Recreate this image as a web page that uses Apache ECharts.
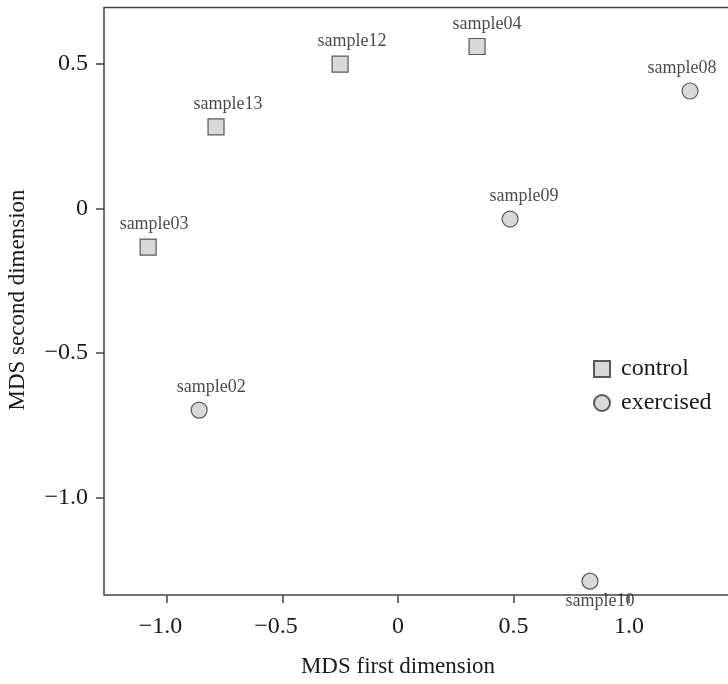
<!DOCTYPE html>
<html>
<head>
<meta charset="utf-8">
<script src="https://cdn.jsdelivr.net/npm/echarts@6/dist/echarts.min.js"></script>
<style>
html,body{margin:0;padding:0;overflow:hidden;background:#fff;}
#c{width:740px;height:684px;}
</style>
</head>
<body>
<div id="c"></div>
<script>
const controlNames = ['sample04','sample12','sample13','sample03'];
const controlX = [0.342, -0.251, -0.788, -1.082];
const controlY = [0.561, 0.500, 0.283, -0.133];
const exercisedNames = ['sample08','sample09','sample02','sample10'];
const exercisedX = [1.264, 0.485, -0.861, 0.831];
const exercisedY = [0.407, -0.036, -0.697, -1.289];
const xTicks = [-1.0, -0.5, 0, 0.5, 1.0];
const yTicks = [-1.0, -0.5, 0, 0.5];

// label placement styling (pixel nudges), kept apart from the data
const labelBelow = ['sample10'];
const labelNudge = { sample04: 10, sample12: 12, sample13: 12, sample03: 6, sample08: -8, sample09: 14, sample02: 12, sample10: 10 };

const FONT = '"Liberation Serif", "DejaVu Serif", serif';
const fmt = v => v === 0 ? '0' : (v < 0 ? '\u2212' : '') + Math.abs(v).toFixed(1);

function pts(names, xs, ys) {
  return names.map((n, i) => ({
    name: n,
    value: [xs[i], ys[i]],
    label: {
      position: labelBelow.includes(n) ? 'bottom' : 'top',
      distance: labelBelow.includes(n) ? 3 : 5,
      offset: [labelNudge[n] || 0, 0]
    }
  }));
}

const chart = echarts.init(document.getElementById('c'), null, { renderer: 'canvas' });
const markStyle = { color: '#d0d0d0', borderColor: '#333', borderWidth: 1.2 };
const ptLabel = { show: true, formatter: p => p.name, color: '#1a1a1a', fontFamily: FONT, fontSize: 18 };

chart.setOption({
  animation: false,
  grid: { left: 104, top: 7.5, right: 4, bottom: 89, show: true, borderColor: '#444', borderWidth: 1.5 },
  xAxis: {
    type: 'value', min: -1.273, max: 1.463,
    splitLine: { show: false },
    axisLine: { show: false, onZero: false },
    axisTick: { show: true, customValues: xTicks, length: 8, lineStyle: { color: '#444', width: 1.5 } },
    axisLabel: {
      customValues: xTicks, margin: 20, color: '#1a1a1a', fontFamily: FONT, fontSize: 24,
      formatter: v => v < 0 ? '{n|' + fmt(v) + '}' : fmt(v),
      rich: { n: { padding: [0, 13, 0, 0], fontFamily: FONT, fontSize: 24, color: '#1a1a1a' } }
    }
  },
  yAxis: {
    type: 'value', min: -1.337, max: 0.696,
    splitLine: { show: false },
    axisLine: { show: false, onZero: false },
    axisTick: { show: true, customValues: yTicks, length: 8, lineStyle: { color: '#444', width: 1.5 } },
    axisLabel: { customValues: yTicks, margin: 16, color: '#1a1a1a', fontFamily: FONT, fontSize: 24, formatter: fmt }
  },
  legend: {
    orient: 'vertical', left: 588, top: 352, itemWidth: 16, itemHeight: 16, itemGap: 10,
    textStyle: { fontFamily: FONT, fontSize: 24, color: '#1a1a1a', padding: [0, 0, 0, 6] },
    data: [{ name: 'control', icon: 'rect' }, { name: 'exercised', icon: 'circle' }]
  },
  series: [
    { name: 'control', type: 'scatter', symbol: 'rect', symbolSize: 16, itemStyle: markStyle, label: ptLabel,
      data: pts(controlNames, controlX, controlY) },
    { name: 'exercised', type: 'scatter', symbol: 'circle', symbolSize: 16, itemStyle: markStyle, label: ptLabel,
      data: pts(exercisedNames, exercisedX, exercisedY) }
  ],
  graphic: [
    { type: 'text', x: 398, y: 667, style: { text: 'MDS first dimension', font: '23px ' + FONT, fill: '#1a1a1a', textAlign: 'center', textVerticalAlign: 'middle' } },
    { type: 'text', x: 18, y: 300, rotation: Math.PI / 2, style: { text: 'MDS second dimension', font: '23px ' + FONT, fill: '#1a1a1a', textAlign: 'center', textVerticalAlign: 'middle' } }
  ]
});
</script>
</body>
</html>
